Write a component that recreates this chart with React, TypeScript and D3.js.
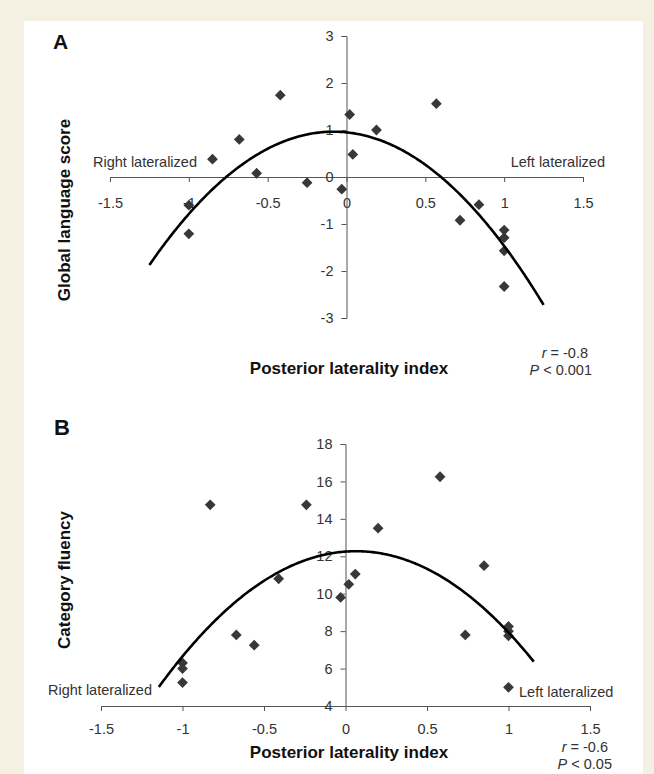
import { useEffect, useRef } from "react";
import * as d3 from "d3";

// panel A: posterior laterality index vs global language score
const lateralityA = [-0.85, -0.68, -0.57, -0.42, -0.25, -0.03, 0.02, 0.04, 0.19, 0.57, -1.0, -1.0, 0.72, 0.84, 1.0, 1.0, 1.0, 1.0];
const languageScore = [0.38, 0.8, 0.08, 1.74, -0.12, -0.26, 1.33, 0.48, 1.0, 1.56, -0.6, -1.21, -0.92, -0.59, -1.13, -1.29, -1.57, -2.33];

// panel B: posterior laterality index vs category fluency
const lateralityB = [-0.83, -0.24, 0.58, 0.2, 0.85, 0.06, -0.41, 0.02, -0.03, -0.67, -0.56, -1.0, -1.0, -1.0, 0.735, 1.0, 1.0, 1.0, 1.0];
const fluency = [14.75, 14.75, 16.25, 13.5, 11.5, 11.05, 10.8, 10.5, 9.8, 7.8, 7.25, 6.3, 6.0, 5.25, 7.8, 8.25, 8.0, 7.75, 5.0];

// quadratic trend lines [a, b, c] and their x extent
const trendA = [-2.077, -0.34, 0.95];
const trendARange = [-1.25, 1.25];
const trendB = [-4.96, 0.639, 12.25];
const trendBRange = [-1.145, 1.156];

const xTicks = [-1.5, -1, -0.5, 0, 0.5, 1, 1.5];
const yTicksA = [-3, -2, -1, 0, 1, 2, 3];
const yTicksB = [4, 6, 8, 10, 12, 14, 16, 18];

const FONT = "'Liberation Sans', Arial, Helvetica, sans-serif";

export default function App() {
  const ref = useRef<SVGSVGElement>(null);

  useEffect(() => {
    if (!ref.current) return;
    const svg = d3.select(ref.current);
    svg.selectAll("*").remove();

    svg.append("rect").attr("width", 654).attr("height", 774).attr("fill", "#f4f1e3");
    svg.append("rect").attr("x", 24).attr("y", 21).attr("width", 619).attr("height", 760).attr("fill", "#fff");

    const drawPanel = (opts: {
      xs: number[];
      ys: number[];
      trend: number[];
      range: number[];
      x: d3.ScaleLinear<number, number>;
      y: d3.ScaleLinear<number, number>;
      yTicks: number[];
      axisY: number;
      labelPad: number;
    }) => {
      const { xs, ys, trend, range, x, y, yTicks, axisY, labelPad } = opts;
      const g = svg.append("g");

      const xAxis = g
        .append("g")
        .attr("transform", `translate(0,${axisY})`)
        .call(
          d3.axisBottom(x).tickValues(xTicks).tickSize(5).tickSizeOuter(5).tickPadding(labelPad).tickFormat((d) => String(d))
        );
      const yAxis = g
        .append("g")
        .attr("transform", `translate(${x(0)},0)`)
        .call(d3.axisLeft(y).tickValues(yTicks).tickSize(5).tickSizeOuter(5).tickPadding(8).tickFormat((d) => String(d)));

      [xAxis, yAxis].forEach((a) => {
        a.selectAll("path, line").attr("stroke", "#555").attr("stroke-width", 1);
        a.selectAll("text").attr("fill", "#333").attr("font-size", 14.5).attr("font-family", FONT);
      });

      const pts = xs.map((v, i) => [v, ys[i]]);
      g.selectAll("path.pt")
        .data(pts)
        .enter()
        .append("path")
        .attr("class", "pt")
        .attr("d", d3.symbol().type(d3.symbolSquare).size(58)())
        .attr("transform", (d) => `translate(${x(d[0])},${y(d[1])}) rotate(45)`)
        .attr("fill", "#383838");

      const [a, b, c] = trend;
      const curve = d3.range(range[0], range[1] + 0.0001, 0.01).map((t) => [t, a * t * t + b * t + c]);
      g.append("path")
        .attr("d", d3.line().x((d) => x(d[0])).y((d) => y(d[1]))(curve as [number, number][]))
        .attr("fill", "none")
        .attr("stroke", "#000")
        .attr("stroke-width", 2.6);
    };

    const xA = d3.scaleLinear().domain([-1.5, 1.5]).range([110, 583]);
    const yA = d3.scaleLinear().domain([-3, 3]).range([318, 36]);
    drawPanel({ xs: lateralityA, ys: languageScore, trend: trendA, range: trendARange, x: xA, y: yA, yTicks: yTicksA, axisY: yA(0), labelPad: 16 });

    const xB = d3.scaleLinear().domain([-1.5, 1.5]).range([101, 590]);
    const yB = d3.scaleLinear().domain([4, 18]).range([706, 444]);
    drawPanel({ xs: lateralityB, ys: fluency, trend: trendB, range: trendBRange, x: xB, y: yB, yTicks: yTicksB, axisY: yB(4), labelPad: 13 });

    const text = (x: number, y: number, s: string, size: number, anchor = "start", weight = "normal", rotate = 0) =>
      svg
        .append("text")
        .attr("transform", `translate(${x},${y}) rotate(${rotate})`)
        .attr("text-anchor", anchor)
        .attr("font-family", FONT)
        .attr("font-size", size)
        .attr("font-weight", weight)
        .attr("fill", weight === "bold" ? "#111" : "#333")
        .text(s);

    const stat = (x: number, y: number, v: string, rest: string) => {
      const t = svg
        .append("text")
        .attr("x", x)
        .attr("y", y)
        .attr("text-anchor", "end")
        .attr("font-family", FONT)
        .attr("font-size", 14.5)
        .attr("fill", "#333");
      t.append("tspan").attr("font-style", "italic").text(v);
      t.append("tspan").text(rest);
    };

    // panel A labels
    text(53, 49, "A", 21, "start", "bold");
    text(93, 167, "Right lateralized", 14.5);
    text(605, 167, "Left lateralized", 14.5, "end");
    text(70, 210, "Global language score", 17, "middle", "bold", -90);
    text(349, 374, "Posterior laterality index", 17, "middle", "bold");
    stat(588, 358, "r", " = -0.8");
    stat(592, 375, "P", " < 0.001");

    // panel B labels
    text(54, 435, "B", 22, "start", "bold");
    text(48, 695, "Right lateralized", 14.5);
    text(519, 697, "Left lateralized", 14.5);
    text(70, 580, "Category fluency", 17, "middle", "bold", -90);
    text(349, 758, "Posterior laterality index", 17, "middle", "bold");
    stat(608, 752, "r", " = -0.6");
    stat(612, 769, "P", " < 0.05");
  }, []);

  return (
    <div style={{ position: "absolute", left: 0, top: 0 }}>
      <svg ref={ref} width={654} height={774} style={{ display: "block" }} />
    </div>
  );
}
